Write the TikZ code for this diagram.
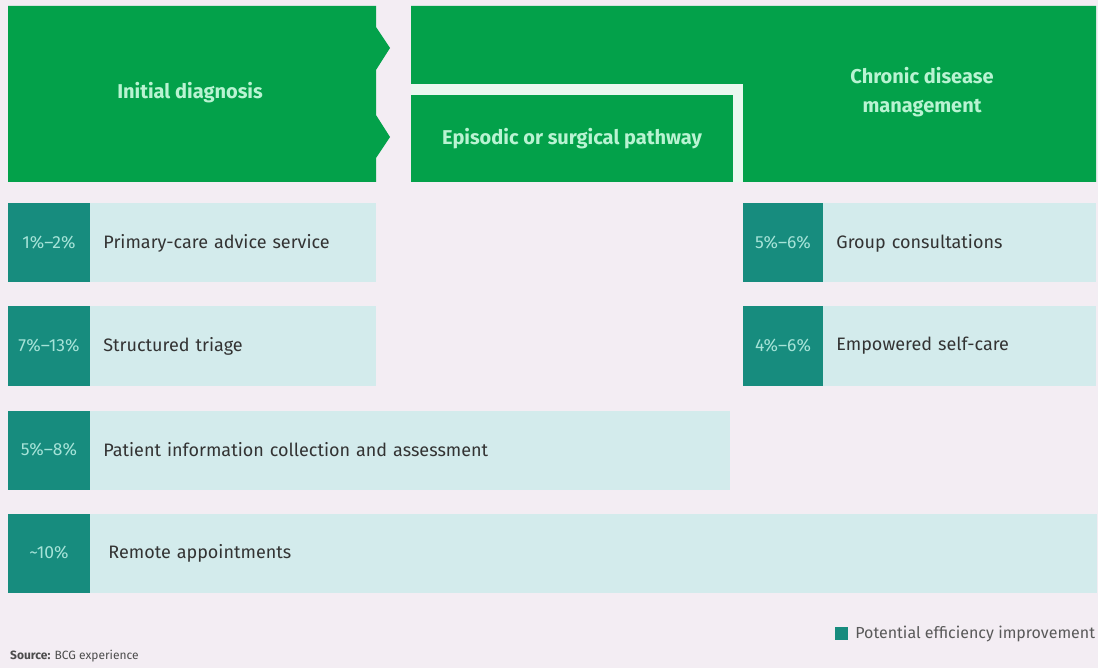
\documentclass[tikz,border=0pt]{standalone}
\usepackage{fontspec}
\setmainfont{Fira Sans}
\usepackage{tikz}
\usetikzlibrary{positioning}
\definecolor{bcggreen}{HTML}{03A14A}
\definecolor{bcgteal}{HTML}{178C7E}
\definecolor{barfill}{HTML}{D3EBEC}
\definecolor{pagebg}{HTML}{F3EDF3}
\definecolor{headtext}{HTML}{B9F3D2}
\definecolor{pcttext}{HTML}{A6E3D8}
\definecolor{gapfill}{HTML}{E9F8EF}
\begin{document}
\begin{tikzpicture}[x=1pt, y=-1pt,
  head/.style={text=headtext, font=\fontsize{20}{29}\selectfont\bfseries, align=center},
  pct/.style={fill=bcgteal, text=pcttext, minimum width=82pt, minimum height=79pt,
              inner sep=0pt, font=\fontsize{17.5}{20}\selectfont},
  bar/.style={fill=barfill, text=black!80, minimum height=79pt, inner xsep=13pt,
              inner ysep=0pt, align=left, font=\fontsize{18}{22}\selectfont},
  node distance=0pt
]
\useasboundingbox (0,0) rectangle (1098,668);
\fill[pagebg] (0,0) rectangle (1098,668);

\fill[bcggreen] (8,6) -- (376,6) -- (376,27) -- (390,48) -- (376,70) -- (376,115)
  -- (390,137) -- (376,158) -- (376,182) -- (8,182) -- cycle;
\node[head] (initial) at (190,93) {Initial diagnosis};

\fill[gapfill] (411,84) rectangle (743,182);
\fill[bcggreen] (411,6) -- (1096,6) -- (1096,182) -- (743,182) -- (743,84) -- (411,84) -- cycle;
\node[head, fill=bcggreen, minimum width=322pt, minimum height=87pt, inner sep=0pt] (episodic)
  at (572,138.5) {Episodic or surgical pathway};
\node[head] (chronic) at (922,92) {Chronic disease\\management};

\node[pct] (p1) at (49,243) {1\%--2\%};
\node[bar, right=of p1, text width=260pt] (b1) {Primary-care advice service};
\node[pct] (p2) at (49,346) {7\%--13\%};
\node[bar, right=of p2, text width=260pt] (b2) {Structured triage};
\node[pct] (p3) at (49,450) {5\%--8\%};
\node[bar, right=of p3, text width=614pt] (b3) {Patient information collection and assessment};
\node[pct] (p4) at (49,553) {\textasciitilde10\%};
\node[bar, right=of p4, text width=981pt] (b4) {\hspace{5pt}Remote appointments};

\node[pct, minimum width=80pt] (p5) at (783,243) {5\%--6\%};
\node[bar, right=of p5, text width=247pt] (b5) {Group consultations};
\node[pct, minimum width=80pt] (p6) at (783,346) {4\%--6\%};
\node[bar, right=of p6, text width=247pt] (b6) {Empowered self-care};

\node[fill=bcgteal, minimum size=13pt, inner sep=0pt] (key) at (841.5,633.5) {};
\node[right=7pt of key, inner sep=0pt, text=black!65, font=\fontsize{16}{19}\selectfont] (keytext)
  {Potential efficiency improvement};
\node[anchor=west, inner sep=0pt, text=black!70, font=\fontsize{12}{14}\selectfont] (source)
  at (10,656) {\textbf{Source:} BCG experience};
\end{tikzpicture}
\end{document}
